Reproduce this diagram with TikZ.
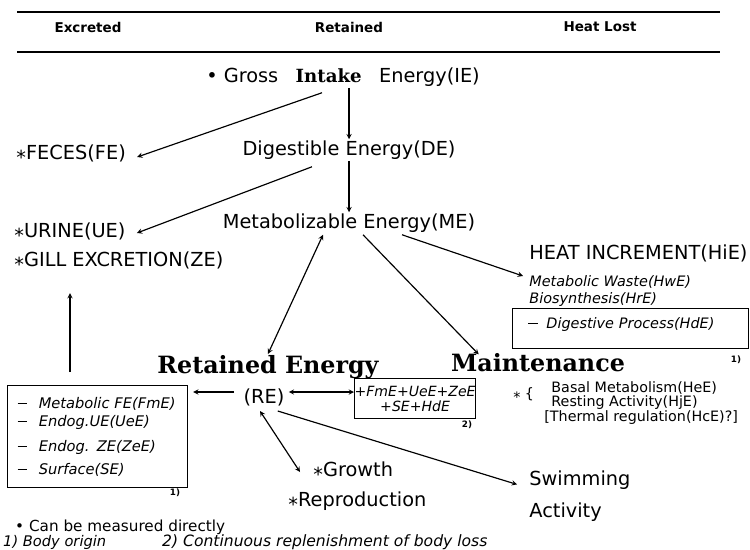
\documentclass[tikz,border=0pt]{standalone}
\usepackage{fontspec}
\setmainfont{DejaVu Sans}
\newfontfamily\slabfont{DejaVu Serif}
\usetikzlibrary{calc}
\newcommand{\meas}{\raisebox{-0.25em}{*}}
\newcommand{\itemdash}{\rule[0.3em]{0.65em}{0.9pt}}
\newcommand{\mainsize}{\fontsize{16.5}{19}\selectfont}
\newcommand{\smallsize}{\fontsize{12.3}{15}\selectfont}
\tikzstyle{txt} = [inner sep=1pt, font=\mainsize]
\tikzstyle{itxt} = [inner sep=1pt, font=\smallsize\itshape]
\tikzstyle{slab} = [inner sep=1pt, font=\fontsize{20.3}{22}\selectfont\slabfont\bfseries]
\tikzstyle{colhead} = [inner sep=1pt, font=\fontsize{11.5}{13}\selectfont\bfseries]
\tikzstyle{fnum} = [inner sep=0pt, font=\fontsize{7.5}{9}\selectfont\bfseries]
\tikzstyle{fnote} = [inner sep=0pt, anchor=west, font=\fontsize{13}{14}\selectfont]
\tikzstyle{boxed} = [draw, line width=1pt, inner sep=0pt, anchor=north west]
\tikzstyle{arrow} = [line width=1pt,->,>=stealth]
\tikzstyle{dblarrow} = [line width=1pt,<->,>=stealth]

\begin{document}
\begin{tikzpicture}[x=0.03cm,y=-0.03cm]
	\useasboundingbox (0,0) rectangle (750,549);
	% column heads
	\draw[line width=1.5pt] (17,12) -- (720,12);
	\draw[line width=1.5pt] (17,52) -- (720,52);
	\node (excr) at (88,27) [colhead] {Excreted};
	\node (retd) at (349,27) [colhead] {Retained};
	\node (heat) at (600,27) [colhead] {Heat Lost};
	% energy partition
	\node (ie) at (343,77) [txt] {\textbullet\ Gross\hspace{0.9em}{\fontsize{15.5}{19}\selectfont\slabfont\bfseries Intake}\hspace{0.9em}Energy(IE)};
	\node (de) at (349,150) [txt] {Digestible Energy(DE)};
	\node (me) at (349,223) [txt] {Metabolizable Energy(ME)};
	\node (fe) at (15,155) [txt, anchor=west] {\meas FECES(FE)};
	\node (ue) at (13,233) [txt, anchor=west] {\meas URINE(UE)};
	\node (ze) at (13,262) [txt, anchor=west] {\meas GILL EXCRETION(ZE)};
	\node (hie) at (528,253) [txt, anchor=west] {HEAT INCREMENT(HiE)};
	\node (hwe) at (528,282) [itxt, anchor=west] {Metabolic Waste(HwE)};
	\node (hre) at (528,300) [itxt, anchor=west] {Biosynthesis(HrE)};
	\node (hde) at (512,308) [boxed, minimum width=7.08cm, minimum height=1.2cm, text width=7.08cm, text depth=9pt, align=left, font=\smallsize\itshape] {\hspace*{13.5pt}\itemdash\hspace{0.6em}Digestive Process(HdE)};
	\node (fn1a) at (736,360) [fnum] {1)};
	\node (retE) at (268,367) [slab] {Retained Energy};
	\node (maint) at (538,363) [slab] {Maintenance};
	\node (re) at (264,397) [txt] {(RE)};
	\node (lbox) at (7,385) [boxed, minimum width=5.4cm, minimum height=3.06cm, text width=5.4cm, align=left, font=\fontsize{12.5}{18}\selectfont\itshape] {\hspace*{8.5pt}\itemdash\hspace{0.8em}Metabolic FE(FmE)\\[-2.6pt]\hspace*{8.5pt}\itemdash\hspace{0.8em}Endog.UE(UeE)\\[3.3pt]\hspace*{8.5pt}\itemdash\hspace{0.8em}Endog. ZE(ZeE)\\[1.6pt]\hspace*{8.5pt}\itemdash\hspace{0.8em}Surface(SE)};
	\node (fn1b) at (175,493) [fnum] {1)};
	\node (rbox) at (354,378) [boxed, minimum width=3.63cm, minimum height=1.2cm, text width=3.63cm, align=center, font=\fontsize{12}{12.8}\selectfont\itshape] {+FmE+UeE+ZeE\\+SE+HdE};
	\node (fn2) at (467,425) [fnum] {2)};
	\node (mstar) at (512,395) [txt, anchor=west, font=\fontsize{12.2}{13}\selectfont] {\meas\hspace{0.3em}\{};
	\node (mlist) at (543,403) [anchor=west, inner sep=1pt, align=left, font=\fontsize{12.2}{12.4}\selectfont] {\hspace*{6pt}Basal Metabolism(HeE)\\\hspace*{6pt}Resting Activity(HjE)\\{}[Thermal regulation(HcE)?]};
	\node (growth) at (312,472) [txt, anchor=west] {\meas Growth};
	\node (repro) at (287,502) [txt, anchor=west] {\meas Reproduction};
	\node (swim) at (528,496) [txt, anchor=west, align=left, font=\fontsize{16.5}{27}\selectfont] {Swimming\\Activity};
	% footnotes
	\node (fnm) at (15,527) [fnote] {\textbullet\ Can be measured directly};
	\node (fnb) at (3,542) [fnote, font=\fontsize{12.5}{14}\selectfont\itshape] {1) Body origin};
	\node (fnc) at (162,542) [fnote, font=\fontsize{13.3}{14}\selectfont\itshape] {2) Continuous replenishment of body loss};
	% flows
	\draw[arrow] (ie.south -| de.north) -- (de.north);
	\draw[arrow] ($(ie.south)+(-21,5)$) -- ($(fe.east)+(10,2)$);
	\draw[arrow] (de.south) -- (me.north);
	\draw[arrow] ($(de.south)+(-37,6)$) -- ($(ue.east)+(10,0)$);
	\draw[dblarrow] (retE.north) -- ($(me.south)+(-26,1)$);
	\draw[arrow] ($(me.south)+(14,1)$) -- ($(maint.north west)+(29,2)$);
	\draw[arrow] ($(me.south)+(53,1)$) -- ($(hwe.west)+(-5,-6)$);
	\draw[arrow] ($(lbox.north west)+(63,-13)$) -- ($(ze.south west)+(57,20)$);
	\draw[arrow] ($(re.west)+(-8,-5)$) -- ($(re.west -| lbox.east)+(5,-5)$);
	\draw[dblarrow] ($(re.east)+(3,-5)$) -- ($(re.east -| rbox.west)+(0,-5)$);
	\draw[dblarrow] ($(re.south)+(-4,4)$) -- ($(growth.west)+(-12,0)$);
	\draw[arrow] ($(re.south east)+(-8,4)$) -- ($(swim.north west)+(-11,15)$);
\end{tikzpicture}
\end{document}
